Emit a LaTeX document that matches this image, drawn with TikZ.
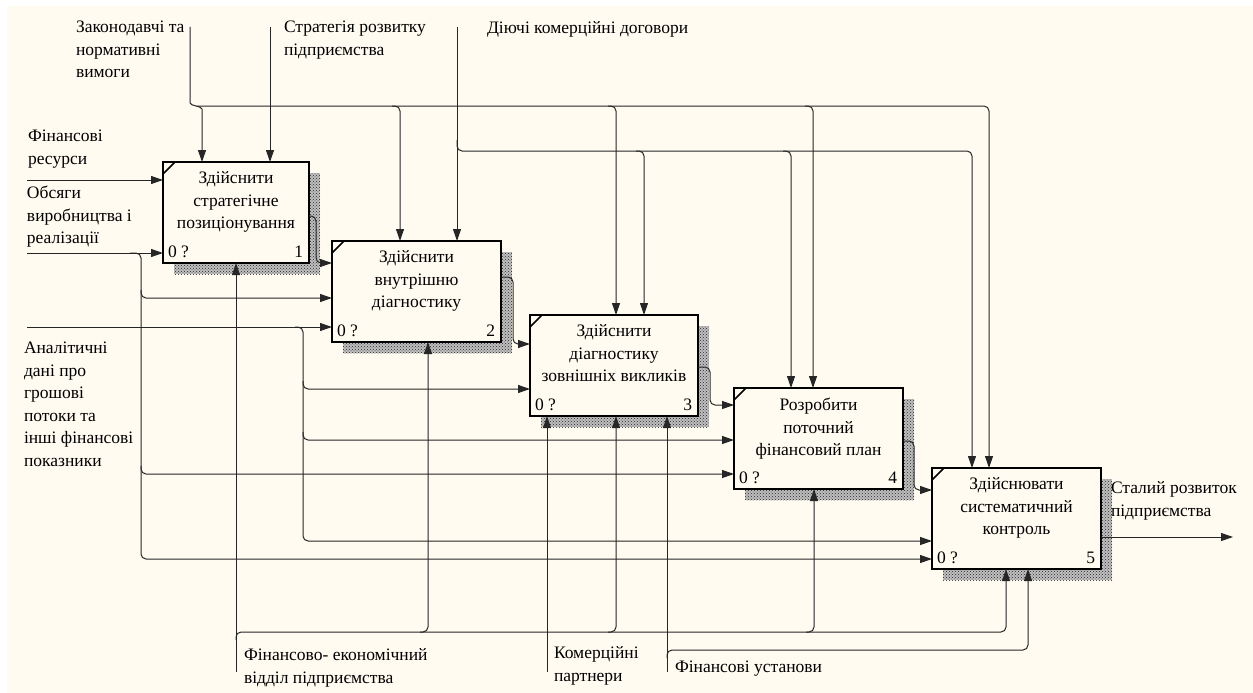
\documentclass[tikz,border=0pt]{standalone}
\usepackage{fontspec}
\setmainfont{Liberation Serif}
\usetikzlibrary{arrows.meta,patterns}
\definecolor{bgc}{RGB}{255,251,240}
\pgfdeclarelayer{bg}
\pgfsetlayers{bg,main}
\begin{document}
\begin{tikzpicture}[x=1pt,y=-1pt,
  line/.style={line width=1pt, draw=black!85, rounded corners=5pt},
  arr/.style={line, -{Triangle[length=12pt,width=8pt]}},
  box/.style={draw, line width=2pt, fill=bgc, anchor=north west, inner sep=0pt, outer sep=0pt, minimum height=101pt},
  shadowbase/.style={fill=black!25},
  shadowfill/.style={pattern=crosshatch dots, pattern color=black!85},
  txt/.style={font=\fontsize{17.5}{22.5}\selectfont, inner sep=0pt, outer sep=0pt},
  lbl/.style={txt, anchor=north west, align=left},
  btxt/.style={txt, anchor=north, align=center},
  tick/.style={line width=1.5pt}
]
\useasboundingbox (0,0) rectangle (1253,693);
% boxes
\node[box, minimum width=146pt] (b1) at (163,162) {};
\node[box, minimum width=169pt] (b2) at (332,241) {};
\node[box, minimum width=168pt] (b3) at (530,315) {};
\node[box, minimum width=169pt] (b4) at (734,388) {};
\node[box, minimum width=169pt] (b5) at (932,468) {};
\begin{pgfonlayer}{bg}
\fill[white] (0,0) rectangle (1253,693);
\fill[bgc] (7,6) rectangle (1253,693);
\foreach \b in {b1,b2,b3,b4,b5}{
  \fill[shadowbase] ([xshift=11pt,yshift=-11pt]\b.north west) rectangle ([xshift=11pt,yshift=-11pt]\b.south east);
  \fill[shadowfill] ([xshift=11pt,yshift=-11pt]\b.north west) rectangle ([xshift=11pt,yshift=-11pt]\b.south east);
}
\end{pgfonlayer}
\foreach \b in {b1,b2,b3,b4,b5}
  \draw[tick] ([yshift=-12pt]\b.north west) -- ([xshift=12pt]\b.north west);
% box texts
\node[btxt] (t1) at ([yshift=-10pt]b1.north) {Здійснити\\стратегічне\\позиціонування};
\node[btxt] (t2) at ([yshift=-10pt]b2.north) {Здійснити\\внутрішню\\діагностику};
\node[btxt] (t3) at ([yshift=-10pt]b3.north) {Здійснити\\діагностику\\зовнішніх викликів};
\node[btxt] (t4) at ([yshift=-10pt]b4.north) {Розробити\\поточний\\фінансовий план};
\node[btxt] (t5) at ([yshift=-10pt]b5.north) {Здійснювати\\систематичний\\контроль};
\foreach \b/\n in {b1/1,b2/2,b3/3,b4/4,b5/5}{
  \node[txt, anchor=base west] (\b z) at ([xshift=5pt,yshift=6pt]\b.south west) {0 ?};
  \node[txt, anchor=base east] (\b n) at ([xshift=-6pt,yshift=6pt]\b.south east) {\n};
}
% labels
\node[lbl] (Lzak) at (76,21) {Законодавчі та\\нормативні\\вимоги};
\node[lbl] (Lstr) at (284,21) {Стратегія розвитку\\підприємства};
\node[lbl] (Ldiy) at (487,22) {Діючі комерційні договори};
\node[lbl] (Lfin) at (28,130) {Фінансові\\ресурси};
\node[lbl] (Lobs) at (27,186) {Обсяги\\виробництва і\\реалізації};
\node[lbl] (Lan) at (24,342) {Аналітичні\\дані про\\грошові\\потоки та\\інші фінансові\\показники};
\node[lbl] (Lfe) at (244,649) {Фінансово- економічний\\відділ підприємства};
\node[lbl] (Lkom) at (554,647) {Комерційні\\партнери};
\node[lbl] (Lfu) at (675,661) {Фінансові установи};
\node[lbl] (Lst) at (1111,482) {Сталий розвиток\\підприємства};
% free ends
\coordinate (zak) at (190,27);
\coordinate (str) at (270,27);
\coordinate (diy) at (457,27);
\coordinate (fin) at (27,180);
\coordinate (obs) at (27,253);
\coordinate (an) at (27,327);
\coordinate (fe) at (236,672);
\coordinate (kom) at (547,672);
\coordinate (fu) at (667,672);
\coordinate (out) at (1233,537);
% controls
\draw[arr] (zak) -- (190,98) to[out=-90,in=90] (202,114) -- (202,114 |- b1.north);
\draw[arr] (197,106) -- (989,106) -- (989,106 |- b5.north);
\draw[arr] (392,106) -- (400,106) -- (400,106 |- b2.north);
\draw[arr] (608,106) -- (616,106) -- (616,106 |- b3.north);
\draw[arr] (805,106) -- (813,106) -- (813,106 |- b4.north);
\draw[arr] (str) -- (str |- b1.north);
\draw[arr] (diy) -- (diy |- b2.north);
\draw[arr] (457,140) -- (457,151) -- (972,151) -- (972,151 |- b5.north);
\draw[arr] (636,151) -- (644,151) -- (644,151 |- b3.north);
\draw[arr] (783,151) -- (791,151) -- (791,151 |- b4.north);
% inputs
\draw[arr] (fin) -- (fin -| b1.west);
\draw[arr] (obs) -- (obs -| b1.west);
\draw[arr] (130,253) -- (141,253) -- (141,559) -- (141,559 -| b5.west);
\draw[arr] (141,290) -- (141,298) -- (141,298 -| b2.west);
\draw[arr] (141,466) -- (141,474) -- (141,474 -| b4.west);
\draw[arr] (an) -- (an -| b2.west);
\draw[arr] (295,327) -- (303,327) -- (303,541) -- (303,541 -| b5.west);
\draw[arr] (303,381) -- (303,389) -- (303,389 -| b3.west);
\draw[arr] (303,432) -- (303,440) -- (303,440 -| b4.west);
% box to box
\draw[arr] (b1.east |- 0,216) -- (316,216) -- (316,263) -- (316,263 -| b2.west);
\draw[arr] (b2.east |- 0,277) -- (513,277) -- (513,344) -- (513,344 -| b3.west);
\draw[arr] (b3.east |- 0,367) -- (710,367) -- (710,405) -- (710,405 -| b4.west);
\draw[arr] (b4.east |- 0,441) -- (914,441) -- (914,490) -- (914,490 -| b5.west);
\draw[arr] (b5.east |- out) -- (out);
% mechanisms
\draw[arr] (fe) -- (fe |- b1.south);
\draw[arr] (236,640) -- (236,632) -- (1006,632) -- (1006,632 |- b5.south);
\draw[arr] (420,632) -- (428,632) -- (428,632 |- b2.south);
\draw[arr] (608,632) -- (616,632) -- (616,632 |- b3.south);
\draw[arr] (806,632) -- (814,632) -- (814,632 |- b4.south);
\draw[arr] (kom) -- (kom |- b3.south);
\draw[arr] (fu) -- (fu |- b3.south);
\draw[arr] (667,658) -- (667,650) -- (1028,650) -- (1028,650 |- b5.south);
\end{tikzpicture}
\end{document}
